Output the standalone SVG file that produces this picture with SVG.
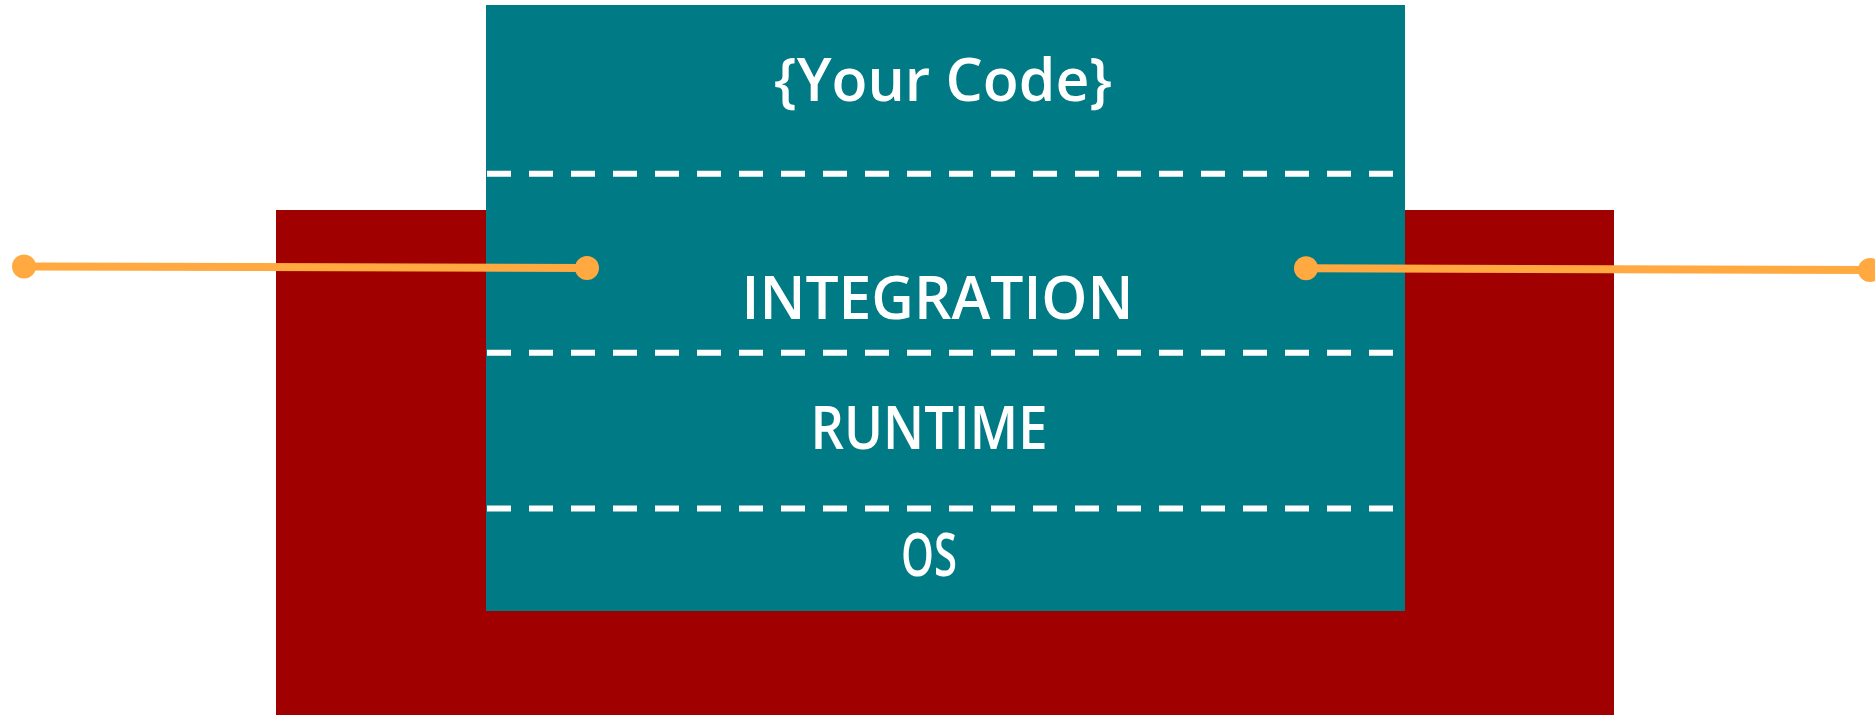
<svg xmlns="http://www.w3.org/2000/svg" width="1875" height="715" viewBox="0 0 1875 715">
<style>
.lbl{font-family:"Open Sans","Liberation Sans",sans-serif;font-weight:600;font-size:59px;fill:#ffffff;text-anchor:middle}
.dash{stroke:#ffffff;stroke-width:6;stroke-dasharray:24 18;fill:none}
.conn{stroke:#FFA940;stroke-width:8;fill:none}
.dot{fill:#FFA940}
</style>
<rect width="1875" height="715" fill="#ffffff"/>
<g id="host">
<rect x="276" y="210" width="1338" height="505" fill="#A00000"/>
</g>
<g id="stack">
<rect x="486" y="5" width="919" height="606" fill="#007A85"/>
<line class="dash" x1="487" y1="173.7" x2="1393" y2="173.7"/>
<line class="dash" x1="487" y1="352.8" x2="1393" y2="352.8"/>
<line class="dash" x1="487" y1="508.5" x2="1393" y2="508.5"/>
</g>
<g id="your-code"><text class="lbl" x="943" y="100.5" textLength="338" lengthAdjust="spacingAndGlyphs">{Your Code}</text></g>
<g id="integration"><text class="lbl" x="937.5" y="319" textLength="392" lengthAdjust="spacingAndGlyphs">INTEGRATION</text></g>
<g id="runtime"><text class="lbl" x="929" y="448.5" textLength="237" lengthAdjust="spacingAndGlyphs">RUNTIME</text></g>
<g id="os"><text class="lbl" x="929" y="576" textLength="56" lengthAdjust="spacingAndGlyphs">OS</text></g>
<g id="connectors">
<line class="conn" x1="24" y1="266.5" x2="587" y2="268"/>
<circle class="dot" cx="24" cy="266.5" r="12"/>
<circle class="dot" cx="587" cy="268" r="12"/>
<line class="conn" x1="1306" y1="268.3" x2="1870" y2="270"/>
<circle class="dot" cx="1306" cy="268.3" r="12"/>
<circle class="dot" cx="1870" cy="270" r="12"/>
</g>
</svg>
